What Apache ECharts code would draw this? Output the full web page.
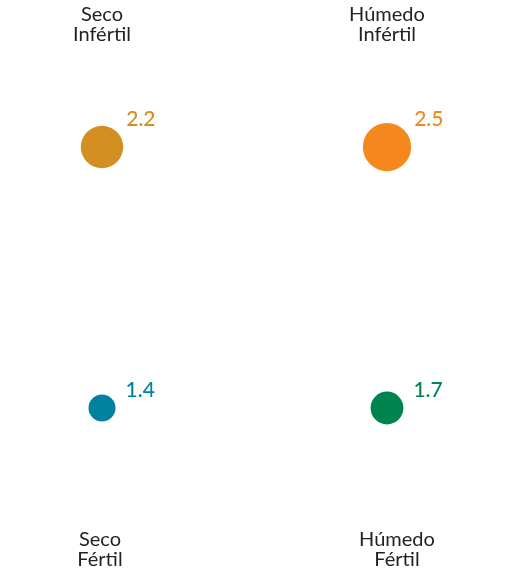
<!DOCTYPE html>
<html><head><meta charset="utf-8">
<script src="https://cdn.jsdelivr.net/npm/echarts@6/dist/echarts.min.js"></script>
<style>html,body{margin:0;padding:0;background:#fff}#c{width:516px;height:578px}</style>
</head><body><div id="c"></div>
<script>
const categories = ['Seco\nInfértil', 'Húmedo\nInfértil', 'Seco\nFértil', 'Húmedo\nFértil'];
const moisture = [0, 1, 0, 1];      // 0 = Seco, 1 = Húmedo
const fertility = [1, 1, 0, 0];     // 1 = Infértil (top), 0 = Fértil (bottom)
const values = [2.2, 2.5, 1.4, 1.7];
const colors = ['#D48F22', '#F5871F', '#00829F', '#00834E'];

const SIZE_K = 19.3;
const chart = echarts.init(document.getElementById('c'));
const data = values.map((v, i) => {
  const r = v * SIZE_K / 2;
  return {
    value: [moisture[i], fertility[i], v],
    itemStyle: { color: colors[i] },
    label: {
      show: true, position: 'inside', align: 'left', verticalAlign: 'middle',
      offset: [fertility[i] ? r + 3 : r + 10, fertility[i] ? -28 : -18],
      formatter: v.toFixed(1),
      color: colors[i], fontSize: 21, fontFamily: 'Lato', fontWeight: 500
    }
  };
});
const grid = { left: 102, right: 129, top: 147, bottom: 170 };
const gx = (m) => grid.left + m * (516 - grid.left - grid.right);
chart.setOption({
  animation: false,
  grid: grid,
  xAxis: { type: 'value', min: 0, max: 1, show: false },
  yAxis: { type: 'value', min: 0, max: 1, show: false },
  graphic: categories.map((c, i) => ({
    type: 'text',
    x: fertility[i] ? gx(moisture[i]) : gx(moisture[i]) + (moisture[i] ? 10 : -2),
    y: fertility[i] ? 5 : 530,
    style: {
      text: c, align: 'center', textAlign: 'center',
      font: '20px Lato', fill: '#222', lineHeight: 20
    }
  })),
  series: [{
    type: 'scatter',
    data: data,
    symbolSize: (d) => d[2] * SIZE_K,
    itemStyle: { opacity: 1 }
  }]
});
</script></body></html>
